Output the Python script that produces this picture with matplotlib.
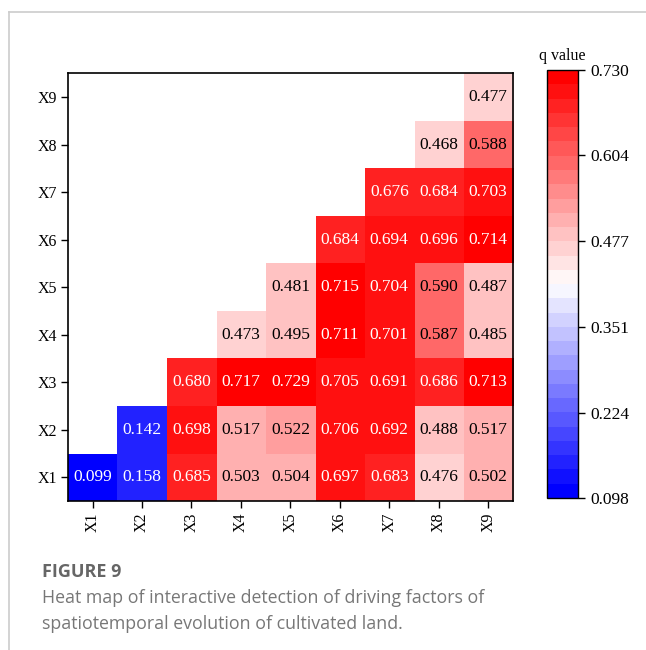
import matplotlib
matplotlib.use('Agg')
import matplotlib.pyplot as plt
import numpy as np
from matplotlib.colors import ListedColormap
from matplotlib.lines import Line2D

factors = ['X1', 'X2', 'X3', 'X4', 'X5', 'X6', 'X7', 'X8', 'X9']
# q values, row Xi starts at column Xi
row_x1 = [0.099, 0.158, 0.685, 0.503, 0.504, 0.697, 0.683, 0.476, 0.502]
row_x2 = [0.142, 0.698, 0.517, 0.522, 0.706, 0.692, 0.488, 0.517]
row_x3 = [0.680, 0.717, 0.729, 0.705, 0.691, 0.686, 0.713]
row_x4 = [0.473, 0.495, 0.711, 0.701, 0.587, 0.485]
row_x5 = [0.481, 0.715, 0.704, 0.590, 0.487]
row_x6 = [0.684, 0.694, 0.696, 0.714]
row_x7 = [0.676, 0.684, 0.703]
row_x8 = [0.468, 0.588]
row_x9 = [0.477]
cbar_ticks = [0.098, 0.224, 0.351, 0.477, 0.604, 0.730]

rows = [row_x1, row_x2, row_x3, row_x4, row_x5, row_x6, row_x7, row_x8, row_x9]
n = len(factors)
q = np.full((n, n), np.nan)
for i, r in enumerate(rows):
    q[i, i:i + len(r)] = r

plt.rcParams['font.family'] = ['Liberation Serif', 'DejaVu Serif']

cmap = ListedColormap(plt.get_cmap('bwr')(np.linspace(0, 1, 30)))
cmap.set_bad('white')

fig = plt.figure(figsize=(6.46, 6.5), dpi=100)
ax = fig.add_axes([0.105, 0.229, 0.689, 0.658])
im = ax.imshow(np.ma.masked_invalid(q), cmap=cmap, vmin=0.098, vmax=0.730,
               origin='lower', aspect='auto')

for i in range(n):
    for j in range(n):
        v = q[i, j]
        if np.isnan(v):
            continue
        c = 'white' if (v > 0.6 or v < 0.3) else 'black'
        ax.text(j, i, '%.3f' % v, ha='center', va='center', color=c, fontsize=12.5)

ax.set_xticks(range(n))
ax.set_yticks(range(n))
ax.set_xticklabels(factors, rotation=90, fontsize=11.5)
ax.set_yticklabels(factors, fontsize=11.5)
ax.tick_params(direction='out', length=5, width=1, pad=3)
for s in ax.spines.values():
    s.set_linewidth(1.2)

cax = fig.add_axes([0.847, 0.234, 0.048, 0.658])
cb = fig.colorbar(im, cax=cax, ticks=cbar_ticks, format='%.3f')
cb.outline.set_linewidth(1)
cax.tick_params(labelsize=12.5, length=5, width=1)
cax.set_title('q value', fontsize=11.5, pad=7)

# page frame
fig.add_artist(Line2D([9 / 646, 1], [1 - 12 / 650, 1 - 12 / 650], color='#cccccc', lw=1.2))
fig.add_artist(Line2D([9 / 646, 9 / 646], [0, 1 - 12 / 650], color='#cccccc', lw=1.2))

fig.text(42 / 646, 1 - 577 / 650, 'FIGURE 9', family='Open Sans', fontweight='bold',
         fontsize=13, color='#666666', va='baseline')
fig.text(42 / 646, 1 - 603 / 650, 'Heat map of interactive detection of driving factors of',
         family='Open Sans', fontsize=12.8, color='#777777', va='baseline')
fig.text(42 / 646, 1 - 629 / 650, 'spatiotemporal evolution of cultivated land.',
         family='Open Sans', fontsize=12.8, color='#777777', va='baseline')

fig.savefig('out.png', dpi=100)
